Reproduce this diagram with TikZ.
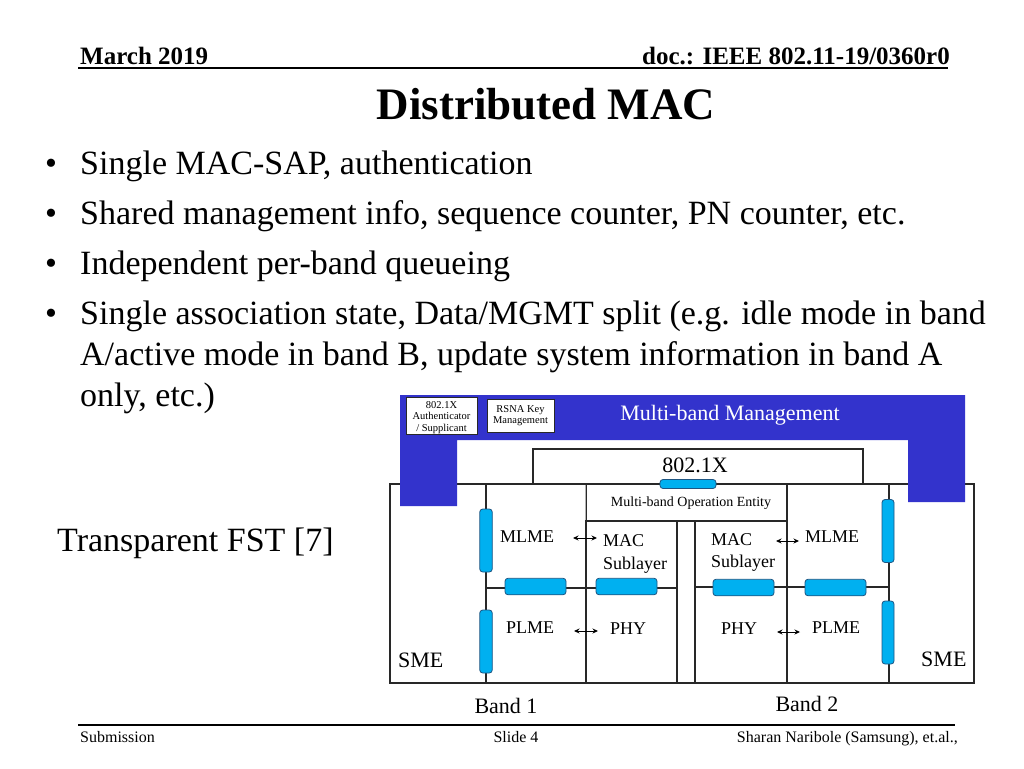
\documentclass[tikz,border=0pt]{standalone}
\usepackage{fontspec}
\setmainfont{Liberation Serif}
\usetikzlibrary{arrows.meta}
\definecolor{mgblue}{RGB}{51,51,204}
\definecolor{pillfill}{RGB}{0,176,240}
\definecolor{pilledge}{RGB}{30,85,130}
\definecolor{ln}{RGB}{40,40,40}
\newcommand{\fs}[1]{\fontsize{#1}{#1}\selectfont}
\tikzset{
  ln/.style={draw=ln, line width=1.4pt},
  box/.style={ln, inner sep=0pt, fill=white},
  pill/.style={draw=pilledge, fill=pillfill, line width=0.8pt, rounded corners=3pt, inner sep=0pt},
  pv/.style={pill, minimum width=12.5pt, minimum height=63pt},
  ph/.style={pill, minimum width=61pt, minimum height=16.5pt},
  sbox/.style={draw=ln, line width=1pt, fill=white, inner sep=0pt, align=center, font=\fontsize{10.5}{11.6}\selectfont},
  stxt/.style={inner sep=0pt, align=center, font=\fontsize{10.5}{11.4}\selectfont},
  lbl/.style={inner sep=0pt, font=\fs{18}},
  big/.style={inner sep=0pt, font=\fs{22}},
  body/.style={inner sep=0pt, anchor=base west, font=\fs{34}},
  dar/.style={{Stealth[length=5.5pt,width=5pt]}-{Stealth[length=5.5pt,width=5pt]}, line width=0.9pt},
}
\begin{document}
\begin{tikzpicture}[x=1pt,y=-1pt]
\useasboundingbox (0,0) rectangle (1024,768);
% header
\node[inner sep=0pt, anchor=base west, font=\bfseries\fs{25}] (hdl) at (80,64) {March 2019};
\node[inner sep=0pt, anchor=base east, font=\bfseries\fs{25}] (hdr) at (950,64) {doc.: IEEE 802.11-19/0360r0};
\coordinate (hl1) at (78,68); \coordinate (hl2) at (948,68);
\draw[line width=1.8pt] (hl1) -- (hl2);
% title
\node[inner sep=0pt, anchor=base, font=\bfseries\fs{45}] (title) at (546,119) {Distributed MAC};
% bullets
\foreach \y/\t [count=\i] in {174/{Single MAC-SAP, authentication},224/{Shared management info, sequence counter, PN counter, etc.},274/{Independent per-band queueing},324/{Single association state, Data/MGMT split (e.g. idle mode in band}}{
  \node[body] (b\i) at (45,\y) {\textbullet};
  \node[body] (t\i) at (80,\y) {\t};
}
\node[body] (t5) at (80,365) {A/active mode in band B, update system information in band A};
\node[body] (t6) at (80,406) {only, etc.)};
\node[body] (fst) at (57,551) {Transparent FST [7]};
% footer
\coordinate (fl1) at (78,725); \coordinate (fl2) at (955,725);
\draw[line width=1.4pt] (fl1) -- (fl2);
\node[inner sep=0pt, anchor=base west, font=\fs{16}] (f1) at (80,742) {Submission};
\node[inner sep=0pt, anchor=base, font=\fs{16}] (f2) at (516,742) {Slide 4};
\node[inner sep=0pt, anchor=base east, font=\fs{16}] (f3) at (958,742) {Sharan Naribole (Samsung), et.al.,};
% diagram: outer frame and lines
\node[ln, inner sep=0pt, minimum width=584pt, minimum height=199pt] (outer) at (682,583.5) {};
\coordinate (vl1) at (486,484); \coordinate (vl2) at (486,683);
\coordinate (vr1) at (889,484); \coordinate (vr2) at (889,683);
\draw[ln] (vl1) -- (vl2);
\draw[ln] (vr1) -- (vr2);
\coordinate (hL1) at (486,588); \coordinate (hL2) at (677,588);
\coordinate (hR1) at (695,587); \coordinate (hR2) at (889,587);
\draw[ln] (hL1) -- (hL2);
\draw[ln] (hR1) -- (hR2);
\node[box, minimum width=201pt, minimum height=37pt, font=\fs{14}] (mboe) at (686.5,502.5) {};
\node[inner sep=0pt, anchor=base, font=\fs{14}] (mboet) at (691,506) {Multi-band Operation Entity};
\draw[draw=gray!60, line width=1.4pt] (mboe.north west) -- (mboe.south west);
\node[ln, inner sep=0pt, minimum width=91pt, minimum height=162pt] (macL) at (631.5,602) {};
\node[ln, inner sep=0pt, minimum width=92pt, minimum height=162pt] (macR) at (741,602) {};
% blue management shape
\fill[mgblue] (400,395) -- (965,395) -- (965,502) -- (908,502) -- (908,440) -- (457,440) -- (457,506) -- (400,506) -- cycle;
\node[inner sep=0pt, anchor=base, text=white, font=\fs{22}] (mbm) at (730,420) {Multi-band Management};
\node[sbox, minimum width=71pt, minimum height=37pt] (auth) at (441.5,415.5) {};
\node[stxt] (autht) at (441.5,417.5) {802.1X\\Authenticator\\/ Supplicant};
\node[sbox, minimum width=67pt, minimum height=33pt] (rsna) at (520.5,415.5) {RSNA Key\\Management};
\node[box, minimum width=330pt, minimum height=35pt] (x8021) at (698,466.5) {};
\node[inner sep=0pt, anchor=base, font=\fs{22}] (x8021t) at (695,472) {802.1X};
% pills
\node[pill, minimum width=56pt, minimum height=9pt] (p0) at (688,484) {};
\node[pv] (pL1) at (486,540.5) {};
\node[pv] (pL2) at (486,641.5) {};
\node[ph] (pLh1) at (535.5,586.5) {};
\node[ph] (pLh2) at (626.5,586.5) {};
\node[ph] (pRh1) at (743.5,587.5) {};
\node[ph] (pRh2) at (835.5,587.5) {};
\node[pv, minimum width=12pt] (pR1) at (888,531) {};
\node[pv, minimum width=12pt] (pR2) at (888,632.5) {};
% labels left
\node[lbl, anchor=base] (mlmeL) at (527,542) {MLME};
\node[lbl, anchor=base] (plmeL) at (530,633) {PLME};
\node[lbl, anchor=base west] (macLt) at (603,546) {MAC};
\node[lbl, anchor=base west] (subL) at (603,569) {Sublayer};
\node[lbl, anchor=base] (phyL) at (628,634) {PHY};
\node[big, anchor=base west] (smeL) at (398,667) {SME};
\node[big, anchor=base] (band1) at (506,713) {Band 1};
\coordinate (aL1) at (573,538); \coordinate (aL2) at (597,538);
\coordinate (aL3) at (574,631); \coordinate (aL4) at (598,631);
\draw[dar] (aL1) -- (aL2);
\draw[dar] (aL3) -- (aL4);
% labels right
\node[lbl, anchor=base west] (macRt) at (711,545) {MAC};
\node[lbl, anchor=base west] (subR) at (711,567) {Sublayer};
\node[lbl, anchor=base] (mlmeR) at (832,542) {MLME};
\node[lbl, anchor=base] (phyR) at (739,634) {PHY};
\node[lbl, anchor=base] (plmeR) at (836,633) {PLME};
\node[big, anchor=base west] (smeR) at (921,666) {SME};
\node[big, anchor=base] (band2) at (807,711) {Band 2};
\coordinate (aR1) at (776,541); \coordinate (aR2) at (799,541);
\coordinate (aR3) at (777,632); \coordinate (aR4) at (800,632);
\draw[dar] (aR1) -- (aR2);
\draw[dar] (aR3) -- (aR4);
\end{tikzpicture}
\end{document}
